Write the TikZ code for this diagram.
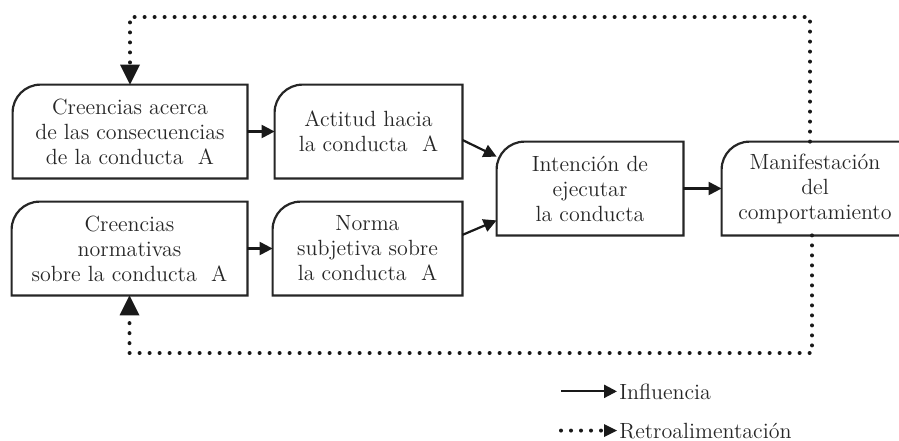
\documentclass[tikz,border=0pt]{standalone}
\usetikzlibrary{arrows.meta,calc}
\begin{document}
\begin{tikzpicture}[x=0.5pt,y=-0.5pt,
  every node/.style={font=\fontsize{11pt}{12.5pt}\selectfont, text=black!85},
  box/.style={align=center, inner sep=0pt, minimum height=46.5pt},
  boxline/.style={draw=black!85, line width=1.1pt, line join=miter},
  inf/.style={draw=black!90, line width=1.1pt, -{Triangle[length=6.5pt,width=6.5pt]}},
  fbline/.style={draw=black!90, line width=2pt, line cap=round, dash pattern=on 0pt off 5pt},
  fb/.style={fbline, -{Triangle[length=10pt,width=10pt,line width=0pt]}},
  fbleg/.style={fbline, -{Triangle[length=6.5pt,width=6.5pt,line width=0pt]}},
  legtext/.style={anchor=base west, inner sep=1pt},
]
\useasboundingbox (0,0) rectangle (899,440);

\node[box, minimum width=117pt] (b1) at (130,131.5) {Creencias acerca\\de las consecuencias\\de la conducta~ A};
\node[box, minimum width=93.5pt] (b2) at (368.5,131.5) {Actitud hacia\\la conducta~ A};
\node[box, minimum width=117.5pt] (b4) at (129.5,248.5) {Creencias\\normativas\\sobre la conducta~ A};
\node[box, minimum width=94.5pt] (b5) at (367.5,248.5) {Norma\\subjetiva sobre\\la conducta~ A};
\node[box, minimum width=93pt] (b3) at (590,188.5) {Intención de\\ejecutar\\la conducta};
\node[box, minimum width=93pt] (b6) at (815,188.5) {Manifestación\\del\\comportamiento};

\foreach \n in {b1,b2,b3,b4,b5}
  \draw[boxline] (\n.south west) -- ([yshift=-14pt]\n.north west) arc[start angle=180,end angle=90,radius=14pt] -- (\n.north east) -- (\n.south east) -- cycle;
\draw[boxline] (b6.north east) -- ([xshift=14pt]b6.north west) arc[start angle=90,end angle=180,radius=14pt] -- (b6.south west) -- (b6.south east);

\draw[inf] (b1.east) -- (b2.west);
\draw[inf] (b4.east) -- (b5.west);
\draw[inf] ($(b2.north east)!0.59!(b2.south east)$) -- ($(b3.north west)!0.16!(b3.south west)$);
\draw[inf] ($(b5.north east)!0.355!(b5.south east)$) -- ($(b3.north west)!0.84!(b3.south west)$);
\draw[inf] (b3.east) -- (b6.west);

\coordinate (ttr) at (810,17);
\coordinate (ttl) at (130,17);
\draw[fb] ([xshift=-2.5pt]b6.north) -- (ttr) -- (ttl) -- (b1.north);
\coordinate (bbr) at (812,353);
\coordinate (bbl) at (129.5,353);
\draw[fb] ([xshift=-1.5pt]b6.south) -- (bbr) -- (bbl) -- (b4.south);

\node[legtext] (l1) at (617,399) {Influencia};
\node[legtext] (l2) at (617,438) {Retroalimentación};
\coordinate (l1s) at ([xshift=-28pt]l1.west);
\coordinate (l2s) at ([xshift=-28pt]l2.west);
\draw[inf] (l1s) -- (l1.west);
\draw[fbleg] (l2s) -- (l2.west);
\end{tikzpicture}
\end{document}
